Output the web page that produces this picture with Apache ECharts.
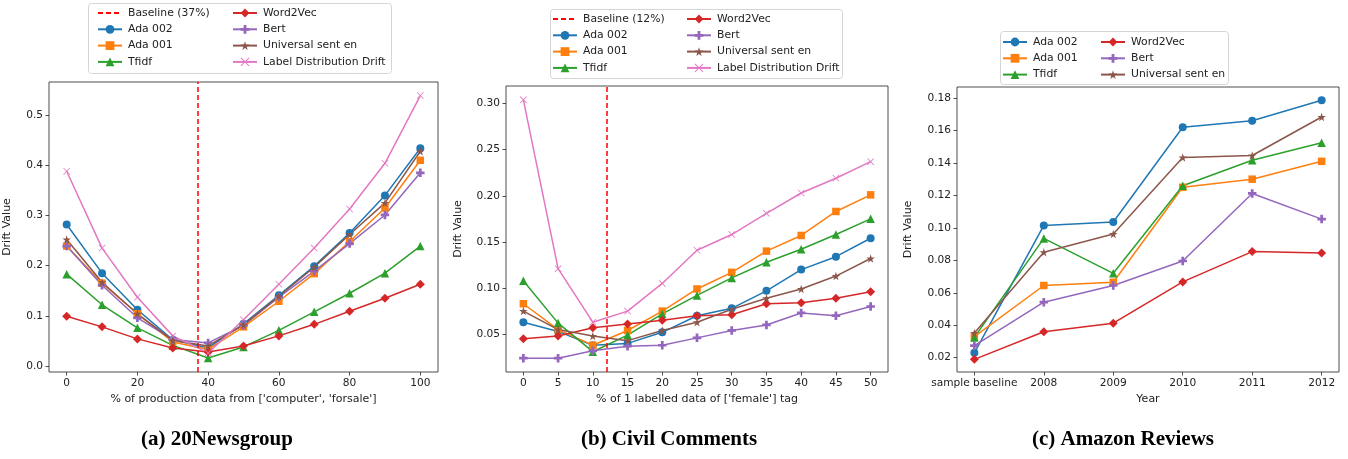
<!DOCTYPE html>
<html><head><meta charset="utf-8">
<script src="https://cdn.jsdelivr.net/npm/echarts@6/dist/echarts.min.js"></script>
<style>html,body{margin:0;padding:0;background:#fff}#c{width:1348px;height:459px}</style>
</head><body><div id="c"></div>
<script>
// ---------- DATA ----------
const seriesNames = ['Ada 002','Ada 001','Tfidf','Word2Vec','Bert','Universal sent en','Label Distribution Drift'];

// (a) 20Newsgroup
const xA = [0,10,20,30,40,50,60,70,80,90,100];
const baselineA = 37;
const ada002A = [0.282,0.185,0.112,0.052,0.036,0.084,0.141,0.199,0.265,0.340,0.434];
const ada001A = [0.239,0.165,0.104,0.048,0.033,0.078,0.129,0.184,0.248,0.315,0.410];
const tfidfA  = [0.183,0.122,0.076,0.041,0.016,0.038,0.071,0.108,0.145,0.185,0.239];
const w2vA    = [0.099,0.078,0.054,0.036,0.028,0.040,0.060,0.083,0.109,0.135,0.163];
const bertA   = [0.239,0.161,0.096,0.053,0.046,0.081,0.137,0.189,0.244,0.301,0.385];
const useA    = [0.252,0.167,0.104,0.051,0.040,0.082,0.139,0.197,0.262,0.325,0.428];
const ldA     = [0.388,0.235,0.137,0.060,0.026,0.092,0.163,0.235,0.313,0.404,0.539];
const xTicksA = [0,20,40,60,80,100];
const yTicksA = [0,0.1,0.2,0.3,0.4,0.5];

// (b) Civil Comments
const xB = [0,5,10,15,20,25,30,35,40,45,50];
const baselineB = 12;
const ada002B = [0.063,0.053,0.038,0.040,0.052,0.070,0.078,0.097,0.120,0.134,0.154];
const ada001B = [0.083,0.055,0.038,0.054,0.075,0.099,0.117,0.140,0.157,0.183,0.201];
const tfidfB  = [0.108,0.062,0.031,0.049,0.072,0.092,0.111,0.128,0.142,0.158,0.175];
const w2vB    = [0.045,0.048,0.057,0.061,0.065,0.070,0.071,0.083,0.084,0.089,0.096];
const bertB   = [0.024,0.024,0.032,0.037,0.038,0.046,0.054,0.060,0.073,0.070,0.080];
const useB    = [0.075,0.055,0.048,0.043,0.054,0.063,0.077,0.089,0.099,0.113,0.132];
const ldB     = [0.304,0.121,0.063,0.075,0.105,0.141,0.158,0.181,0.203,0.219,0.237];
const xTicksB = [0,5,10,15,20,25,30,35,40,45,50];
const yTicksB = [0.05,0.10,0.15,0.20,0.25,0.30];

// (c) Amazon Reviews
const catsC = ['sample baseline','2008','2009','2010','2011','2012'];
const ada002C = [0.023,0.1015,0.1036,0.162,0.166,0.1786];
const ada001C = [0.033,0.0645,0.0665,0.125,0.130,0.141];
const tfidfC  = [0.0325,0.0935,0.072,0.126,0.1417,0.1525];
const w2vC    = [0.019,0.036,0.0413,0.0667,0.0854,0.0845];
const bertC   = [0.0274,0.0542,0.0645,0.0796,0.1212,0.1054];
const useC    = [0.0352,0.085,0.0962,0.1433,0.1446,0.1683];
const yTicksC = [0.02,0.04,0.06,0.08,0.10,0.12,0.14,0.16,0.18];

// ---------- STYLE ----------
const FONT = 'DejaVu Sans';
const COLORS = {'Ada 002':'#1f77b4','Ada 001':'#ff7f0e','Tfidf':'#2ca02c','Word2Vec':'#d62728','Bert':'#9467bd','Universal sent en':'#8c564b','Label Distribution Drift':'#e377c2'};
const STAR = 'path://M50,0L61.2,34.5L97.6,34.5L68.2,55.9L79.4,90.5L50,69.1L20.6,90.5L31.8,55.9L2.4,34.5L38.8,34.5Z';
const PLUS = 'path://M3.4,0H6.6V3.4H10V6.6H6.6V10H3.4V6.6H0V3.4H3.4Z';
const XMARK = 'path://M0.8,0L5,4.2L9.2,0L10,0.8L5.8,5L10,9.2L9.2,10L5,5.8L0.8,10L0,9.2L4.2,5L0,0.8Z';
const SYM = {'Ada 002':['circle',8],'Ada 001':['rect',7.5],'Tfidf':['triangle',8.5],'Word2Vec':['diamond',9],'Bert':[PLUS,8.5],'Universal sent en':[STAR,8.5],'Label Distribution Drift':[XMARK,7]};

function mk(name, xs, ys, gi){
  return {
    type:'line', name, xAxisIndex:gi, yAxisIndex:gi,
    data: ys.map((v,i)=>[xs[i], v]),
    symbol: SYM[name][0], symbolSize: SYM[name][1], showAllSymbol:true,
    itemStyle:{color:COLORS[name]}, lineStyle:{color:COLORS[name], width:1.5},
    animation:false, silent:true, emphasis:{disabled:true}
  };
}
function baseline(name, xv, gi){
  return {
    type:'line', name, xAxisIndex:gi, yAxisIndex:gi, data:[], symbol:'none',
    itemStyle:{color:'#ff0000'}, lineStyle:{color:'#ff0000', width:1.5, type:[5,3]},
    markLine:{silent:true, symbol:['none','none'], label:{show:false},
      lineStyle:{color:'#ff0000', width:1.5, type:[5,3]}, data:[{xAxis:xv}], animation:false},
    animation:false, silent:true
  };
}

const tick = {show:true, inside:false, length:3.5, lineStyle:{color:'#222', width:0.8}};
function xAxis(gi, min, max, ticks, fmt, name){
  return {type:'value', gridIndex:gi, min, max, name, nameLocation:'middle', nameGap:21,
    nameTextStyle:{fontFamily:FONT, fontSize:11, color:'#222'},
    axisLine:{show:false, onZero:false}, splitLine:{show:false},
    axisTick:Object.assign({customValues:ticks}, tick),
    axisLabel:{customValues:ticks, formatter:fmt, fontFamily:FONT, fontSize:10.6, color:'#222', margin:6}};
}
function yAxis(gi, min, max, ticks, dec, gap){
  return {type:'value', gridIndex:gi, min, max, name:'Drift Value', nameLocation:'middle', nameGap:gap,
    nameTextStyle:{fontFamily:FONT, fontSize:11, color:'#222'},
    axisLine:{show:false, onZero:false}, splitLine:{show:false},
    axisTick:Object.assign({customValues:ticks}, tick),
    axisLabel:{customValues:ticks, formatter:v=>Number(v).toFixed(dec), fontFamily:FONT, fontSize:10.6, color:'#222', margin:6}};
}
function legend(names, left, top){
  return {data:names, orient:'vertical', left, top, itemWidth:24, itemHeight:11, itemGap:4.3,
    selectedMode:false, padding:0,
    textStyle:{fontFamily:FONT, fontSize:10.8, color:'#222', lineHeight:12, padding:[0,0,0,1]}};
}
const hiddenSym = {color:'rgba(0,0,0,0)', borderColor:'rgba(0,0,0,0)', borderWidth:0};

const grids = [
  {left:49, top:82, width:389, height:290},
  {left:506, top:86, width:382, height:286},
  {left:957, top:87, width:382, height:285}
].map(g=>Object.assign(g,{show:true, borderColor:'#222', borderWidth:0.8, backgroundColor:'transparent', containLabel:false}));

const series = [
  baseline('Baseline (37%)', baselineA, 0),
  mk('Ada 002', xA, ada002A, 0), mk('Ada 001', xA, ada001A, 0), mk('Tfidf', xA, tfidfA, 0),
  mk('Word2Vec', xA, w2vA, 0), mk('Bert', xA, bertA, 0), mk('Universal sent en', xA, useA, 0),
  mk('Label Distribution Drift', xA, ldA, 0),
  baseline('Baseline (12%)', baselineB, 1),
  mk('Ada 002', xB, ada002B, 1), mk('Ada 001', xB, ada001B, 1), mk('Tfidf', xB, tfidfB, 1),
  mk('Word2Vec', xB, w2vB, 1), mk('Bert', xB, bertB, 1), mk('Universal sent en', xB, useB, 1),
  mk('Label Distribution Drift', xB, ldB, 1)
];
const xC = catsC.map((c,i)=>i);
series.push(mk('Ada 002', xC, ada002C, 2), mk('Ada 001', xC, ada001C, 2), mk('Tfidf', xC, tfidfC, 2),
  mk('Word2Vec', xC, w2vC, 2), mk('Bert', xC, bertC, 2), mk('Universal sent en', xC, useC, 2));

const capStyle = {fontFamily:'Liberation Serif', fontWeight:'bold', fontSize:21, fill:'#000', align:'center', verticalAlign:'middle'};
const option = {
  animation:false,
  grid: grids,
  xAxis: [
    xAxis(0, -5, 105, xTicksA, v=>String(v), "% of production data from ['computer', 'forsale']"),
    xAxis(1, -2.5, 52.5, xTicksB, v=>String(v), "% of 1 labelled data of ['female'] tag"),
    xAxis(2, -0.25, 5.25, xC, v=>catsC[Math.round(v)], 'Year')
  ],
  yAxis: [
    yAxis(0, -0.012, 0.566, yTicksA, 1, 36),
    yAxis(1, 0.009, 0.319, yTicksB, 2, 42),
    yAxis(2, 0.0112, 0.1868, yTicksC, 2, 43)
  ],
  legend: [
    legend([{name:'Baseline (37%)', itemStyle:hiddenSym},'Ada 002','Ada 001','Tfidf'], 97, 7),
    legend(['Word2Vec','Bert','Universal sent en','Label Distribution Drift'], 232, 7),
    legend([{name:'Baseline (12%)', itemStyle:hiddenSym},'Ada 002','Ada 001','Tfidf'], 552, 13),
    legend(['Word2Vec','Bert','Universal sent en','Label Distribution Drift'], 686, 13),
    legend(['Ada 002','Ada 001','Tfidf'], 1002, 36),
    legend(['Word2Vec','Bert','Universal sent en'], 1100, 36)
  ],
  graphic: [
    {type:'rect', shape:{x:88.5, y:3.5, width:303, height:70, r:3}, style:{fill:'#fff', stroke:'#d5d5d5', lineWidth:1}, z:0, silent:true},
    {type:'rect', shape:{x:550.5, y:9.5, width:292, height:69, r:3}, style:{fill:'#fff', stroke:'#d5d5d5', lineWidth:1}, z:0, silent:true},
    {type:'rect', shape:{x:1000.5, y:31.5, width:228, height:53, r:3}, style:{fill:'#fff', stroke:'#d5d5d5', lineWidth:1}, z:0, silent:true},
    {type:'text', x:217, y:440, style:Object.assign({text:'(a) 20Newsgroup'}, capStyle)},
    {type:'text', x:669, y:440, style:Object.assign({text:'(b) Civil Comments'}, capStyle)},
    {type:'text', x:1123, y:440, style:Object.assign({text:'(c) Amazon Reviews'}, capStyle)}
  ],
  series
};
const chart = echarts.init(document.getElementById('c'), null, {renderer:'canvas'});
chart.setOption(option);
</script></body></html>
